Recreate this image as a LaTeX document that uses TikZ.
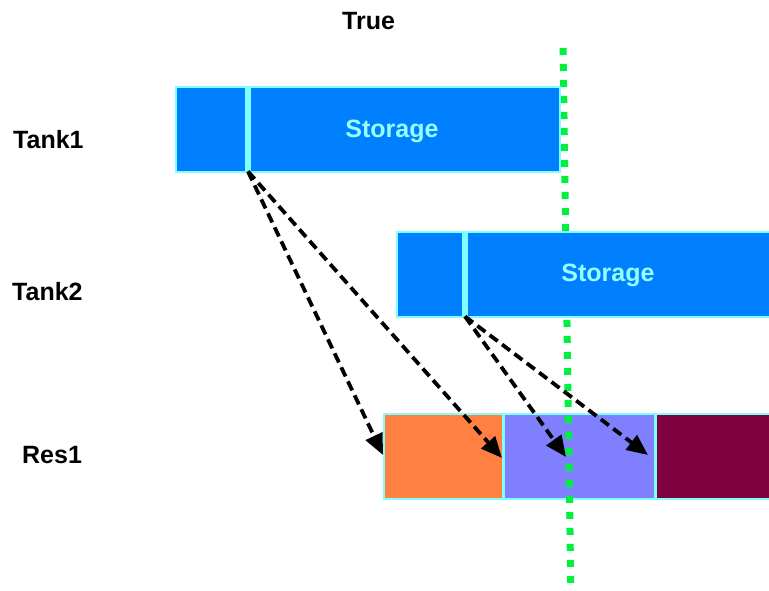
\documentclass[tikz,border=0pt]{standalone}
\usepackage{fontspec}
\setmainfont{Liberation Sans}
\usetikzlibrary{arrows.meta}
\definecolor{barblue}{RGB}{0,128,255}
\definecolor{edgecyan}{RGB}{128,255,255}
\definecolor{txtcyan}{RGB}{150,255,255}
\definecolor{resorange}{RGB}{255,128,64}
\definecolor{reslav}{RGB}{128,128,255}
\definecolor{resmaroon}{RGB}{128,0,64}
\definecolor{dotgreen}{RGB}{0,240,64}
\begin{document}
\begin{tikzpicture}[x=1pt,y=-1pt,
  lbl/.style={font=\fontsize{25}{30}\selectfont\bfseries, inner sep=0pt},
  bar/.style={draw=edgecyan, line width=1.5pt, fill=barblue, inner sep=0pt,
              minimum height=85pt, anchor=north west},
  divider/.style={fill=edgecyan, inner sep=0pt, minimum width=6pt,
                  minimum height=85pt, anchor=north},
  resbox/.style={draw=edgecyan, line width=2pt, inner sep=0pt,
                 minimum height=85pt, anchor=north west},
  marker/.style={draw=dotgreen, line width=7pt, dash pattern=on 7pt off 9pt},
  flow/.style={draw=black, line width=3.8pt, dash pattern=on 10pt off 5.5pt,
               -{Triangle[length=21pt,width=18pt]}},
  storage/.style={lbl, text=txtcyan, anchor=base}]
\clip (0,0) rectangle (769,590);
\fill[white] (0,0) rectangle (769,590);

% resource row
\node[resbox, fill=resorange, minimum width=119pt] (orange) at (383,413) {};
\node[resbox, fill=reslav, minimum width=151pt] (lav) at (503,413) {};
\node[resbox, fill=resmaroon, minimum width=130pt] (maroon) at (655,413) {};

% current-time marker
\coordinate (gtop) at (563,48);
\coordinate (gbot) at (571,600);
\draw[marker] (gtop) -- (gbot);

% tank bars
\node[bar, minimum width=384pt] (tank1) at (175,86) {};
\node[divider] (div1) at (248,86) {};
\node[bar, minimum width=390pt] (tank2) at (396,231) {};
\node[divider] (div2) at (465,231) {};

\node[storage] (st1) at (392,137) {Storage};
\node[storage] (st2) at (608,281.5) {Storage};

% row labels
\node[lbl, anchor=base west] (lt1) at (13,148) {Tank1};
\node[lbl, anchor=base west] (lt2) at (12,300) {Tank2};
\node[lbl, anchor=base west] (lr1) at (22,463) {Res1};
\node[lbl, anchor=base west] (ltrue) at (342,29) {True};

% flows
\coordinate (t1) at (383,455);
\coordinate (t2) at (502,458);
\coordinate (t3) at (566,457);
\coordinate (t4) at (648,455);
\draw[flow] (div1.south) -- (t1);
\draw[flow] (div1.south) -- (t2);
\draw[flow] (div2.south) -- (t3);
\draw[flow] (div2.south) -- (t4);
\end{tikzpicture}
\end{document}
